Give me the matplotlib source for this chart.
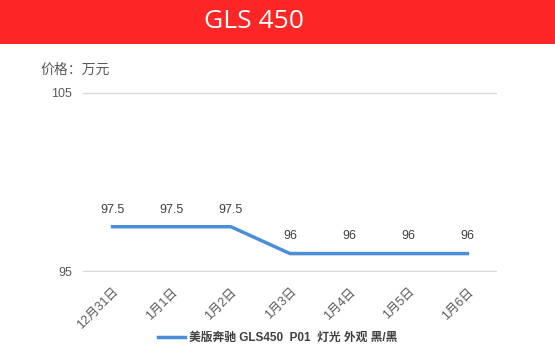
import matplotlib.pyplot as plt
import matplotlib.patches as patches

plt.rcParams['font.family'] = ['Liberation Sans', 'Noto Sans CJK SC', 'DejaVu Sans']

dates = ['12月31日', '1月1日', '1月2日', '1月3日', '1月4日', '1月5日', '1月6日']
prices = [97.5, 97.5, 97.5, 96, 96, 96, 96]
series_name = '美版奔驰 GLS450  P01  灯光 外观 黑/黑'
y_ticks = [95, 105]

W, H = 555, 352
fig = plt.figure(figsize=(W / 100, H / 100), dpi=100)

# red title banner
fig.patches.append(patches.Rectangle((0, 1 - 44 / H), 1, 44 / H, transform=fig.transFigure,
                                     fc='#fc2626', ec='none', zorder=0))
fig.text(254 / W, 1 - 21 / H, 'GLS 450', color='white', fontsize=19, ha='center', va='center',
         family=['Open Sans', 'DejaVu Sans'])

fig.text(40 / W, 1 - 70 / H, '价格：万元', color='#595959', fontsize=10, ha='left', va='center',
         family=['Noto Sans CJK SC'])

ax = fig.add_axes([83 / W, 1 - 272 / H, (497 - 83) / W, 180 / H])
x = list(range(len(dates)))
line, = ax.plot(x, prices, color='#4a8fd8', lw=2.5, solid_joinstyle='miter')
for xi, p in zip(x, prices):
    ax.annotate(f'{p:g}', (xi, p), xytext=(0, 8), textcoords='offset points',
                ha='center', va='bottom', fontsize=9, color='#404040')

ax.set_xlim(-0.5, len(dates) - 0.5)
ax.set_ylim(94.97, 105.03)
ax.set_yticks(y_ticks)
ax.set_xticks(x)
ax.set_xticklabels(dates, rotation=45, ha='right', rotation_mode='anchor',
                   family=['Liberation Sans', 'Noto Sans CJK SC'])
ax.tick_params(axis='both', length=0, labelsize=9, colors='#595959', pad=10)
ax.tick_params(axis='y', pad=8)
ax.grid(axis='y', color='#d9d9d9', lw=1)
ax.set_axisbelow(True)
for s in ax.spines.values():
    s.set_visible(False)

fig.legend([line], [series_name], loc='center', bbox_to_anchor=(0.5, 1 - 338 / H),
           frameon=False, handlelength=2.3, handletextpad=0.3,
           labelcolor='#404040', prop={'family': ['Liberation Sans', 'Noto Sans CJK SC'],
                                        'weight': 'bold', 'size': 8.5})

fig.savefig('out.png', dpi=100)
